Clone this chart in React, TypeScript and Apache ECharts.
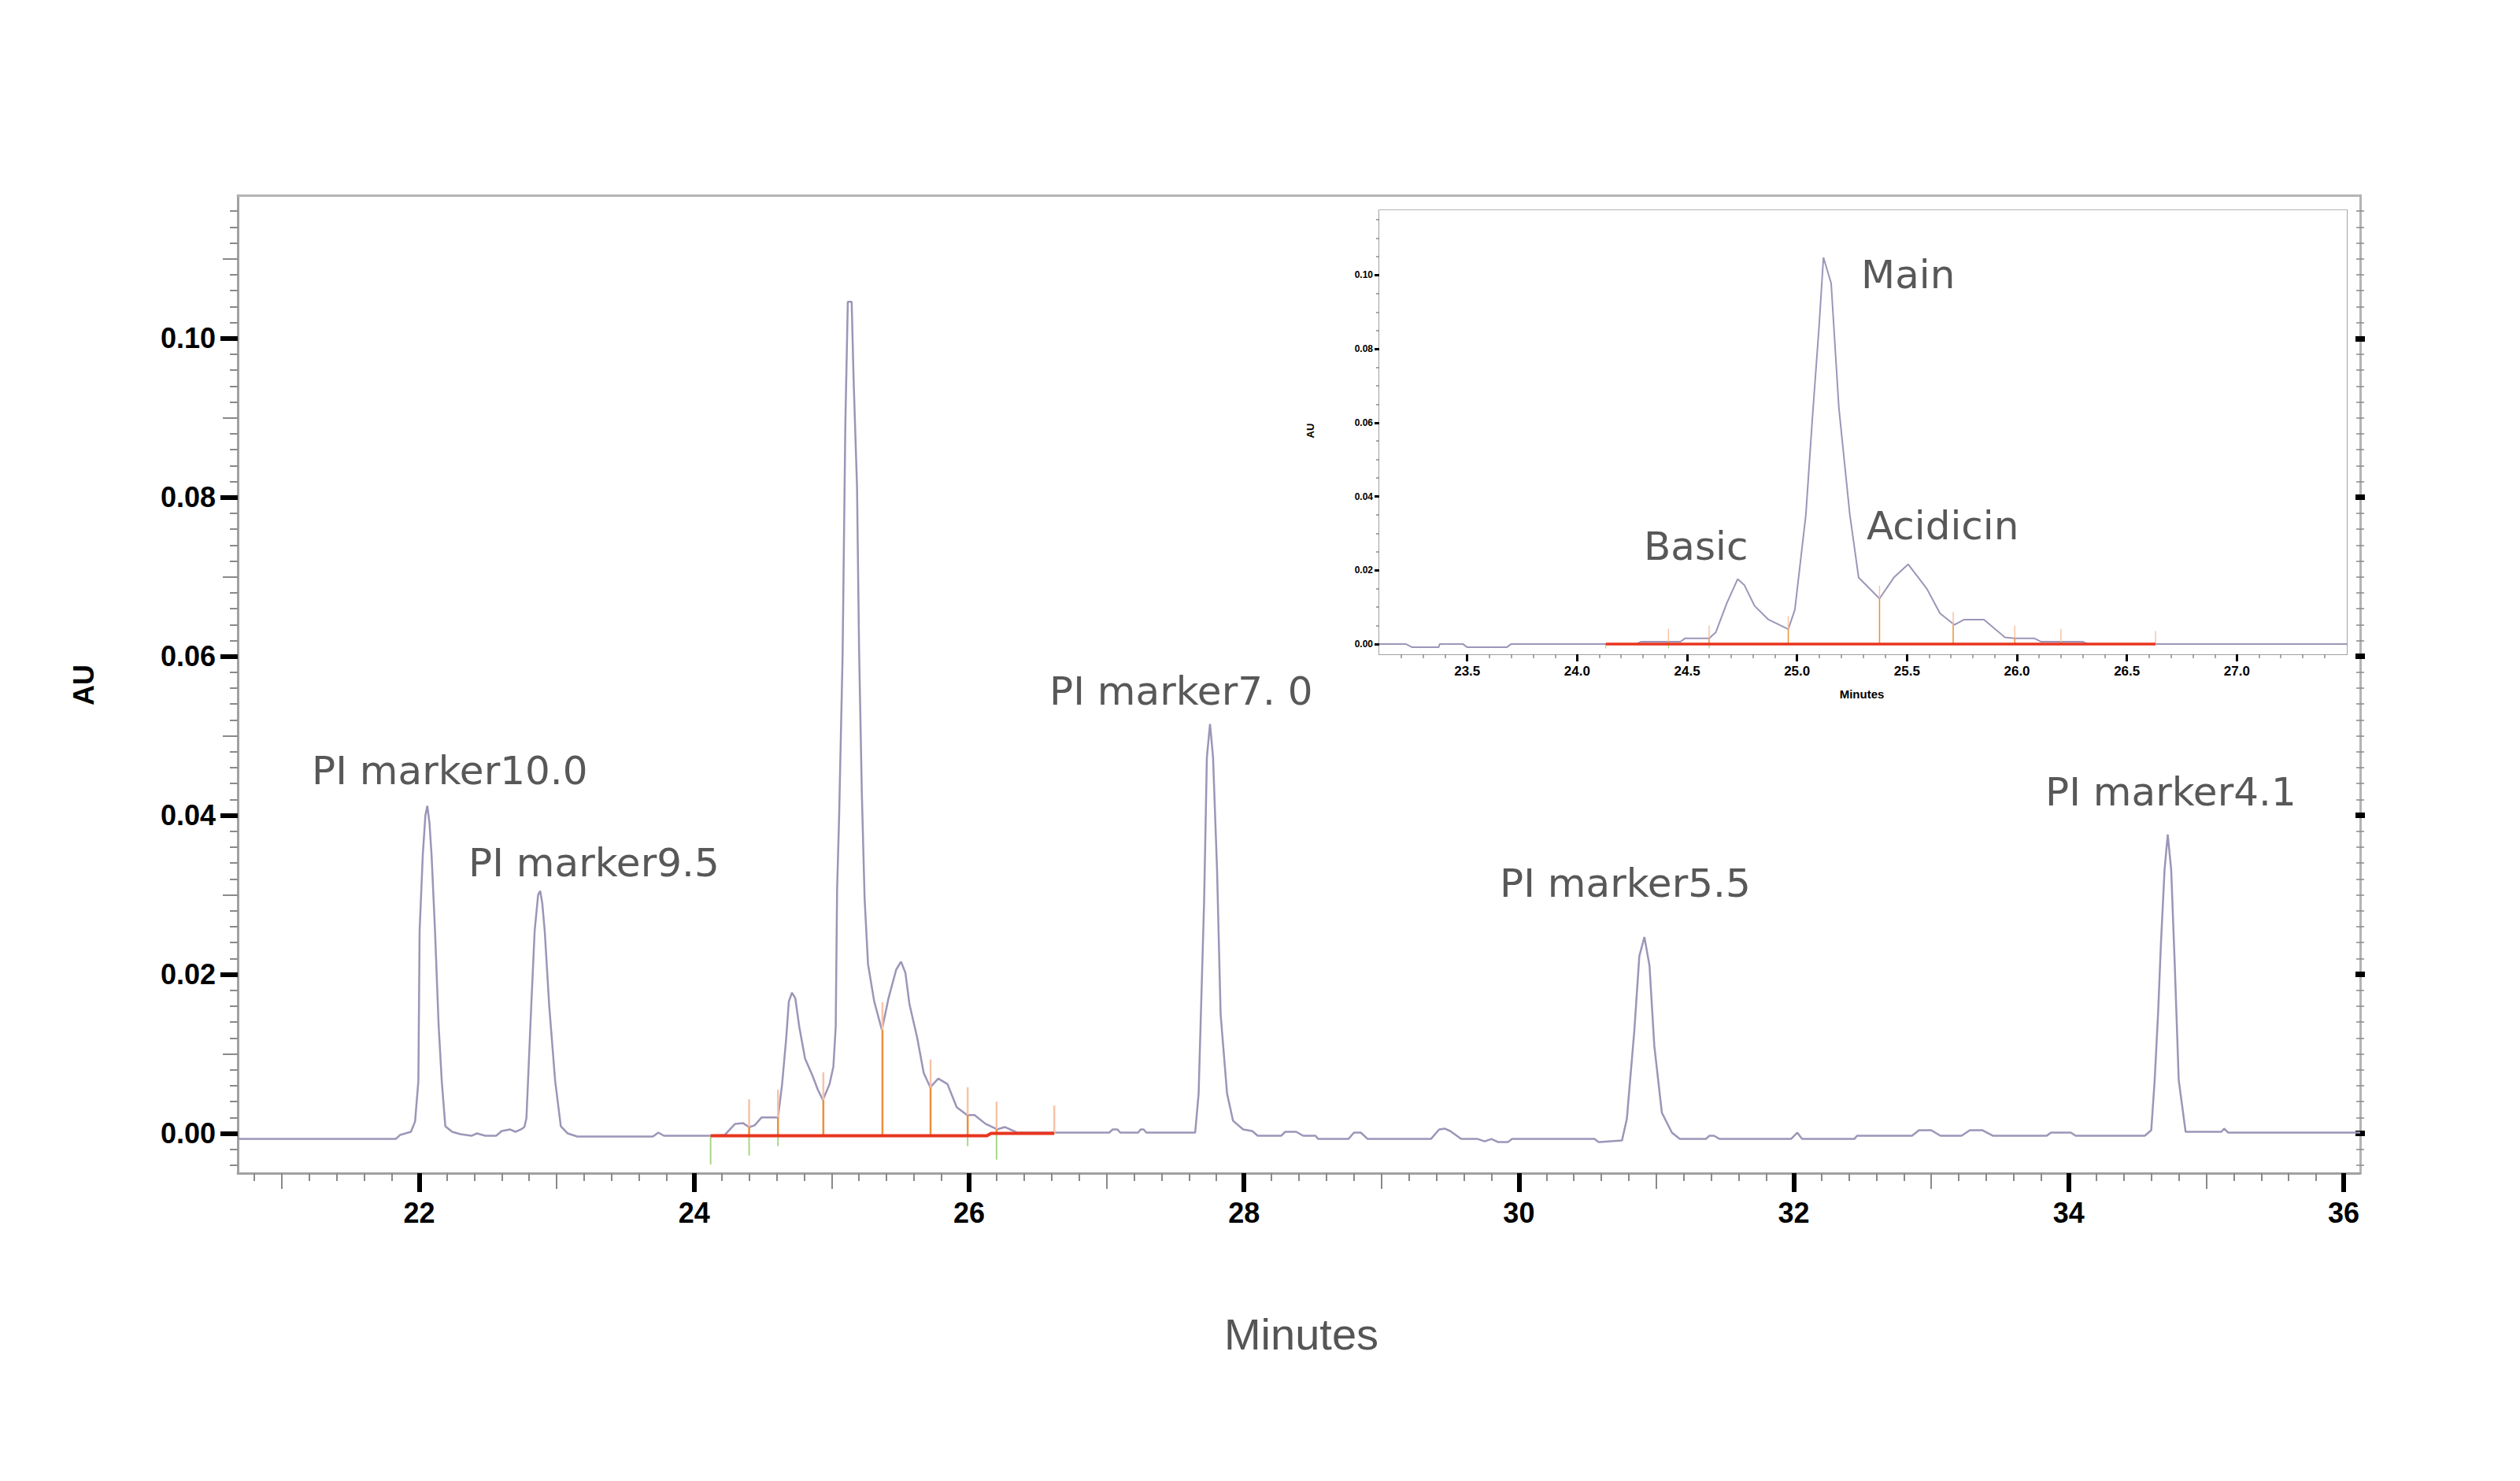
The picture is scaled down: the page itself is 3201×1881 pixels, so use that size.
import React, { useEffect, useRef } from "react";
import * as echarts from "echarts";

// ---------------- data ----------------
const mainTime = [
  20.68, 21.4, 21.83, 21.86, 21.94, 21.97, 21.994, 22.003, 22.026, 22.045, 22.059, 22.075, 22.09, 22.115, 22.141,
  22.164, 22.19, 22.24, 22.3, 22.38, 22.42, 22.48, 22.56, 22.6, 22.66, 22.7, 22.74, 22.765, 22.78, 22.815, 22.84,
  22.865, 22.88, 22.895, 22.913, 22.946, 22.989, 23.03, 23.08, 23.15, 23.7, 23.74, 23.78, 24.12, 24.222, 24.298,
  24.355, 24.4, 24.44, 24.49, 24.61, 24.64, 24.67, 24.689, 24.712, 24.736, 24.765, 24.807, 24.86, 24.9, 24.937,
  24.985, 25.013, 25.03, 25.04, 25.055, 25.08, 25.1, 25.118, 25.146, 25.16, 25.185, 25.2, 25.22, 25.24, 25.265,
  25.31, 25.366, 25.414, 25.47, 25.505, 25.537, 25.566, 25.623, 25.67, 25.718, 25.776, 25.843, 25.91, 25.986,
  26.04, 26.12, 26.205, 26.26, 26.35, 26.86, 27.02, 27.045, 27.08, 27.1, 27.23, 27.248, 27.27, 27.29, 27.645,
  27.67, 27.71, 27.73, 27.753, 27.775, 27.804, 27.83, 27.877, 27.92, 27.994, 28.06, 28.1, 28.27, 28.3, 28.38,
  28.43, 28.52, 28.54, 28.76, 28.8, 28.85, 28.9, 29.36, 29.42, 29.46, 29.5, 29.58, 29.7, 29.75, 29.8, 29.85,
  29.92, 29.95, 30.55, 30.58, 30.75, 30.785, 30.84, 30.876, 30.913, 30.95, 30.985, 31.04, 31.113, 31.17, 31.36,
  31.386, 31.42, 31.46, 31.98, 32.025, 32.06, 32.44, 32.46, 32.86, 32.91, 33.0, 33.066, 33.22, 33.28, 33.37,
  33.45, 33.84, 33.87, 34.015, 34.05, 34.553, 34.6, 34.625, 34.65, 34.67, 34.697, 34.72, 34.745, 34.77, 34.8,
  34.85, 35.11, 35.13, 35.16, 36.12,
];
const mainAU = [
  -0.0007, -0.0007, -0.0007, -0.0002, 0.0002, 0.0015, 0.0066, 0.0255, 0.035, 0.04, 0.0412, 0.039, 0.035, 0.0255, 0.0137,
  0.0066, 0.0009, 0.0002, -0.0001, -0.0003, 0.0, -0.0003, -0.0003, 0.0003, 0.0005, 0.0002, 0.0005, 0.0008, 0.0019, 0.016, 0.0255,
  0.03, 0.0305, 0.029, 0.0255, 0.016, 0.0066, 0.0009, 0.0, -0.0004, -0.0004, 0.0001, -0.0003, -0.0003, -0.0002, 0.0012,
  0.0013, 0.0008, 0.001, 0.002, 0.002, 0.0062, 0.012, 0.0166, 0.0177, 0.017, 0.0134, 0.0094, 0.0073, 0.0055, 0.0042,
  0.0062, 0.0084, 0.0134, 0.0306, 0.04, 0.0601, 0.0892, 0.1046, 0.1046, 0.0949, 0.0813, 0.0608, 0.0428, 0.0296, 0.0213,
  0.0166, 0.013, 0.017, 0.0206, 0.0216, 0.0202, 0.0163, 0.012, 0.0076, 0.0058, 0.0069, 0.0062, 0.0033, 0.0023,
  0.0023, 0.0012, 0.0005, 0.0008, 0.0001, 0.0001, 0.0001, 0.0005, 0.0005, 0.0001, 0.0001, 0.0005, 0.0005, 0.0001, 0.0001,
  0.005, 0.0292, 0.0473, 0.0515, 0.0473, 0.0332, 0.015, 0.005, 0.0016, 0.0005, 0.0003, -0.0003, -0.0003, 0.0002, 0.0002,
  -0.0003, -0.0003, -0.0007, -0.0007, 0.0001, 0.0001, -0.0007, -0.0007, 0.0005, 0.0006, 0.0003, -0.0007, -0.0007, -0.001, -0.0007, -0.0011,
  -0.0011, -0.0007, -0.0007, -0.0011, -0.0009, 0.0018, 0.013, 0.0223, 0.0247, 0.0211, 0.011, 0.0026, 0.0001, -0.0007, -0.0007,
  -0.0003, -0.0003, -0.0007, -0.0007, 0.0001, -0.0007, -0.0007, -0.0003, -0.0003, 0.0004, 0.0004, -0.0003, -0.0003, 0.0004, 0.0004,
  -0.0003, -0.0003, 0.0001, 0.0001, -0.0003, -0.0003, 0.0004, 0.0067, 0.0152, 0.0237, 0.0332, 0.0376, 0.0332, 0.0217, 0.0067,
  0.0002, 0.0002, 0.0006, 0.0001, 0.0001,
];

const insetTime = [
  23.1, 23.22, 23.25, 23.37, 23.375, 23.48, 23.5, 23.68, 23.7, 24.27, 24.29, 24.47, 24.49, 24.6, 24.63, 24.68, 24.73,
  24.76, 24.807, 24.87, 24.96, 24.99, 25.04, 25.07, 25.1, 25.12, 25.155, 25.19, 25.24, 25.28, 25.375, 25.44, 25.505,
  25.59, 25.65, 25.715, 25.76, 25.85, 25.945, 25.99, 26.08, 26.11, 26.3, 26.32, 27.5,
];
const insetAU = [
  0.0, 0.0, -0.0009, -0.0009, 0.0, 0.0, -0.0009, -0.0009, 0.0, 0.0, 0.0006, 0.0006, 0.0015, 0.0015, 0.0031, 0.011, 0.0176,
  0.016, 0.0103, 0.0066, 0.004, 0.0093, 0.035, 0.0615, 0.086, 0.1048, 0.0978, 0.0641, 0.035, 0.018, 0.0123, 0.018, 0.0216,
  0.015, 0.0083, 0.0052, 0.0066, 0.0066, 0.0018, 0.0015, 0.0015, 0.0006, 0.0006, 0.0, 0.0,
];

// integration marks (main chart)
const baselineTime = [24.12, 26.13, 26.16, 26.62];
const baselineAU = [-0.0003, -0.0003, 0.0, 0.0];
const dropTime = [24.4, 24.61, 24.94, 25.37, 25.72, 25.99, 26.2, 26.62];
const dropBase = [-0.0003, -0.0003, -0.0003, -0.0003, -0.0003, -0.0003, 0.0, 0.0];
const dropTop = [0.0008, 0.002, 0.0042, 0.013, 0.0058, 0.0023, 0.0005, 0.0];
const dropOver = 0.0035;
const greenTime = [24.12, 24.4, 24.61, 25.99, 26.2];
const greenBase = [-0.0003, -0.0003, -0.0003, -0.0003, 0.0];
const greenDepth = [0.0036, 0.0025, 0.0013, 0.0013, 0.0033];

// integration marks (inset)
const insetBaselineTime = [24.13, 26.63];
const insetBaselineAU = [0.0, 0.0];
const insetDropTime = [24.415, 24.6, 24.96, 25.375, 25.71, 25.99, 26.2, 26.63];
const insetDropTop = [0.0006, 0.0015, 0.004, 0.0123, 0.0052, 0.0015, 0.0006, 0.0];
const insetGreenTime = [24.13, 24.415, 24.6];
const insetGreenDepth = [0.0012, 0.0012, 0.0012];

// tick labels
const xTickLabels = [22, 24, 26, 28, 30, 32, 34, 36];
const yTickLabels = [0, 0.02, 0.04, 0.06, 0.08, 0.1];
const insetXTickLabels = [23.5, 24.0, 24.5, 25.0, 25.5, 26.0, 26.5, 27.0];
const insetYTickLabels = [0, 0.02, 0.04, 0.06, 0.08, 0.1];

// peak annotations
const peakNames = ["PI marker10.0", "PI marker9.5", "PI marker7. 0", "PI marker5.5", "PI marker4.1"];
const insetPeakNames = ["Basic", "Main", "Acidicin"];

// ---------------- helpers ----------------
const steps = (from: number, to: number, step: number, skipEvery: number) => {
  const out: number[] = [];
  const n = Math.round((to - from) / step);
  for (let i = 0; i <= n; i++) {
    const v = +(from + i * step).toFixed(6);
    const k = Math.round(v / step);
    if (skipEvery > 0 && k % skipEvery === 0) continue;
    out.push(v);
  }
  return out;
};
const zip = (a: number[], b: number[]) => a.map((t, i) => [t, b[i]]);

const GRAY_AXIS = "#a3a0a0";
const TRACE = "#9d95b8";
const TXT = "#585858";
const LABEL_FONT = "Liberation Sans";
const ANN_FONT = "DejaVu Sans";

const X_MIN = 20.68, X_MAX = 36.12, Y_MIN = -0.005, Y_MAX = 0.118;
const IX_MIN = 23.1, IX_MAX = 27.5, IY_MIN = -0.0028, IY_MAX = 0.1176;

function tickAxis(kind: "x" | "y", grid: number, pos: string, min: number, max: number, values: number[], len: number, width: number, color: string, inside = false, line = false, lineColor = GRAY_AXIS, lineWidth = 3) {
  return {
    type: "value",
    gridIndex: grid,
    position: pos,
    min,
    max,
    axisLine: { show: line, onZero: false, lineStyle: { color: lineColor, width: lineWidth } },
    axisTick: { show: values.length > 0, inside, length: len, customValues: values, lineStyle: { color, width } },
    axisLabel: { show: false },
    splitLine: { show: false },
  } as any;
}

function dropRender(params: any, api: any) {
  const t = api.value(0), b = api.value(1), top = api.value(2), over = api.value(3);
  const p0 = api.coord([t, b]);
  const p1 = api.coord([t, top]);
  const p2 = api.coord([t, top + over]);
  const w = params.seriesName === "drops" ? 2.5 : 1.5;
  return {
    type: "group",
    children: [
      { type: "line", shape: { x1: p1[0], y1: p1[1], x2: p2[0], y2: p2[1] }, style: { stroke: "#f8c3a6", lineWidth: w } },
      { type: "line", shape: { x1: p0[0], y1: p0[1], x2: p1[0], y2: p1[1] }, style: { stroke: "#ec8f3a", lineWidth: w } },
    ],
  };
}
function greenRender(params: any, api: any) {
  const t = api.value(0), b = api.value(1), d = api.value(2);
  const p0 = api.coord([t, b]);
  const p1 = api.coord([t, b - d]);
  return { type: "line", shape: { x1: p0[0], y1: p0[1], x2: p1[0], y2: p1[1] }, style: { stroke: "#a6d884", lineWidth: params.seriesName === "green" ? 2 : 1.2 } };
}

function buildOption() {
  const xAxis: any[] = [
    {
      type: "value", gridIndex: 0, position: "bottom", min: X_MIN, max: X_MAX,
      axisLine: { show: true, onZero: false, lineStyle: { color: GRAY_AXIS, width: 3 } },
      axisTick: { show: true, length: 24, customValues: xTickLabels, lineStyle: { color: "#000", width: 6 } },
      axisLabel: { show: true, customValues: xTickLabels, margin: 32, fontFamily: LABEL_FONT, fontWeight: "bold", fontSize: 36, color: "#000", formatter: (v: number) => String(v) },
      splitLine: { show: false },
    },
    tickAxis("x", 0, "bottom", X_MIN, X_MAX, steps(20.8, 36.0, 0.2, 5), 10, 2, "#8a8a8a"),
    tickAxis("x", 0, "bottom", X_MIN, X_MAX, [21, 23, 25, 27, 29, 31, 33, 35], 20, 2, "#8a8a8a"),
    tickAxis("x", 0, "top", X_MIN, X_MAX, [], 0, 0, "#000", false, true, "#b4b4b4", 3),
    {
      type: "value", gridIndex: 1, position: "bottom", min: IX_MIN, max: IX_MAX,
      axisLine: { show: true, onZero: false, lineStyle: { color: GRAY_AXIS, width: 2 } },
      axisTick: { show: true, length: 9, customValues: insetXTickLabels, lineStyle: { color: "#000", width: 3 } },
      axisLabel: { show: true, customValues: insetXTickLabels, margin: 13, fontFamily: LABEL_FONT, fontWeight: "bold", fontSize: 17, color: "#000", formatter: (v: number) => v.toFixed(1) },
      splitLine: { show: false },
    },
    tickAxis("x", 1, "bottom", IX_MIN, IX_MAX, steps(23.2, 27.4, 0.1, 5), 5, 1.5, "#8a8a8a"),
    tickAxis("x", 1, "top", IX_MIN, IX_MAX, [], 0, 0, "#000", false, true, "#b4b4b4", 3),
  ];

  const yAxis: any[] = [
    {
      type: "value", gridIndex: 0, position: "left", min: Y_MIN, max: Y_MAX,
      axisLine: { show: true, onZero: false, lineStyle: { color: GRAY_AXIS, width: 3 } },
      axisTick: { show: true, length: 22, customValues: yTickLabels, lineStyle: { color: "#000", width: 6 } },
      axisLabel: { show: true, customValues: yTickLabels, margin: 28, fontFamily: LABEL_FONT, fontWeight: "bold", fontSize: 36, color: "#000", formatter: (v: number) => v.toFixed(2) },
      splitLine: { show: false },
    },
    tickAxis("y", 0, "left", Y_MIN, Y_MAX, steps(-0.004, 0.116, 0.002, 5), 10, 2, "#8a8a8a"),
    tickAxis("y", 0, "left", Y_MIN, Y_MAX, [0.01, 0.03, 0.05, 0.07, 0.09, 0.11], 19, 2, "#8a8a8a"),
    tickAxis("y", 0, "right", Y_MIN, Y_MAX, steps(-0.004, 0.116, 0.002, 0), 5, 1.5, "#8a8a8a", false, true, "#b4b4b4", 3),
    tickAxis("y", 0, "right", Y_MIN, Y_MAX, steps(-0.004, 0.116, 0.002, 0), 5, 1.5, "#8a8a8a", true),
    tickAxis("y", 0, "right", Y_MIN, Y_MAX, yTickLabels, 6, 7, "#000", false),
    tickAxis("y", 0, "right", Y_MIN, Y_MAX, yTickLabels, 6, 7, "#000", true),
    {
      type: "value", gridIndex: 1, position: "left", min: IY_MIN, max: IY_MAX,
      axisLine: { show: true, onZero: false, lineStyle: { color: GRAY_AXIS, width: 2 } },
      axisTick: { show: true, length: 6, customValues: insetYTickLabels, lineStyle: { color: "#000", width: 3 } },
      axisLabel: { show: true, customValues: insetYTickLabels, margin: 8, fontFamily: LABEL_FONT, fontWeight: "bold", fontSize: 12, color: "#000", formatter: (v: number) => v.toFixed(2) },
      splitLine: { show: false },
    },
    tickAxis("y", 1, "left", IY_MIN, IY_MAX, steps(0.005, 0.115, 0.005, 4), 4, 1.5, "#8a8a8a"),
    tickAxis("y", 1, "right", IY_MIN, IY_MAX, steps(-0.002, 0.116, 0.002, 0), 7, 1.2, "#8a8a8a", true, true, GRAY_AXIS, 2),
    tickAxis("y", 1, "right", IY_MIN, IY_MAX, insetYTickLabels, 8, 3, "#333", true),
  ];

  const series: any[] = [
    {
      name: "trace", type: "line", xAxisIndex: 0, yAxisIndex: 0, data: zip(mainTime, mainAU),
      symbol: "none", lineStyle: { color: TRACE, width: 2.5 }, z: 2, silent: true,
    },
    {
      name: "drops", type: "custom", xAxisIndex: 0, yAxisIndex: 0, renderItem: dropRender, z: 3, silent: true,
      data: dropTime.map((t, i) => [t, dropBase[i], dropTop[i], dropOver]),
    },
    {
      name: "green", type: "custom", xAxisIndex: 0, yAxisIndex: 0, renderItem: greenRender, z: 3, silent: true,
      data: greenTime.map((t, i) => [t, greenBase[i], greenDepth[i]]),
    },
    {
      name: "baseline", type: "line", xAxisIndex: 0, yAxisIndex: 0, data: zip(baselineTime, baselineAU),
      symbol: "none", lineStyle: { color: "#e8351f", width: 4 }, z: 4, silent: true,
    },
    {
      name: "insetTrace", type: "line", xAxisIndex: 4, yAxisIndex: 7, data: zip(insetTime, insetAU),
      symbol: "none", lineStyle: { color: TRACE, width: 2 }, z: 12, silent: true,
    },
    {
      name: "insetDrops", type: "custom", xAxisIndex: 4, yAxisIndex: 7, renderItem: dropRender, z: 13, silent: true,
      data: insetDropTime.map((t, i) => [t, 0, insetDropTop[i], dropOver]),
    },
    {
      name: "insetGreen", type: "custom", xAxisIndex: 4, yAxisIndex: 7, renderItem: greenRender, z: 13, silent: true,
      data: insetGreenTime.map((t, i) => [t, 0, insetGreenDepth[i]]),
    },
    {
      name: "insetBaseline", type: "line", xAxisIndex: 4, yAxisIndex: 7, data: zip(insetBaselineTime, insetBaselineAU),
      symbol: "none", lineStyle: { color: "#e8351f", width: 3.5 }, z: 14, silent: true,
    },
  ];

  const ann = (text: string, x: number, y: number) => ({
    type: "text", x, y, z: 50,
    style: { text, fontFamily: ANN_FONT, fontSize: 50, fill: TXT, align: "left", verticalAlign: "middle" },
  });

  const graphic: any[] = [
    ann(peakNames[0], 396, 979),
    ann(peakNames[1], 595, 1096),
    ann(peakNames[2], 1333, 878),
    ann(peakNames[3], 1905, 1122),
    ann(peakNames[4], 2598, 1006),
    ann(insetPeakNames[0], 2088, 694),
    ann(insetPeakNames[1], 2364, 349),
    ann(insetPeakNames[2], 2371, 668),
    {
      type: "text", x: 106, y: 870, rotation: Math.PI / 2, z: 50,
      style: { text: "AU", fontFamily: LABEL_FONT, fontWeight: "bold", fontSize: 36, fill: "#000", align: "center", verticalAlign: "middle" },
    },
    {
      type: "text", x: 1653, y: 1694, z: 50,
      style: { text: "Minutes", fontFamily: LABEL_FONT, fontSize: 56, fill: "#555", align: "center", verticalAlign: "middle" },
    },
    {
      type: "text", x: 1664, y: 547, rotation: Math.PI / 2, z: 50,
      style: { text: "AU", fontFamily: LABEL_FONT, fontWeight: "bold", fontSize: 13, fill: "#000", align: "center", verticalAlign: "middle" },
    },
    {
      type: "text", x: 2365, y: 881, z: 50,
      style: { text: "Minutes", fontFamily: LABEL_FONT, fontWeight: "bold", fontSize: 15, fill: "#000", align: "center", verticalAlign: "middle" },
    },
  ];

  return {
    animation: false,
    backgroundColor: "#ffffff",
    grid: [
      { left: 302, right: 203, top: 248, bottom: 391, containLabel: false, outerBoundsMode: "none" },
      { left: 1752, right: 220, top: 267, bottom: 1050, containLabel: false, outerBoundsMode: "none", show: true, backgroundColor: "#ffffff", borderWidth: 0, z: 10 },
    ],
    xAxis,
    yAxis,
    series,
    graphic,
  };
}

export default function App() {
  const ref = useRef<HTMLDivElement>(null);
  useEffect(() => {
    if (!ref.current) return;
    const chart = echarts.init(ref.current, null, { renderer: "svg" });
    chart.setOption(buildOption() as any);
    return () => chart.dispose();
  }, []);
  return (
    <div
      ref={ref}
      style={{ position: "fixed", left: 0, top: 0, width: 3201, height: 1881, background: "#fff" }}
    />
  );
}
